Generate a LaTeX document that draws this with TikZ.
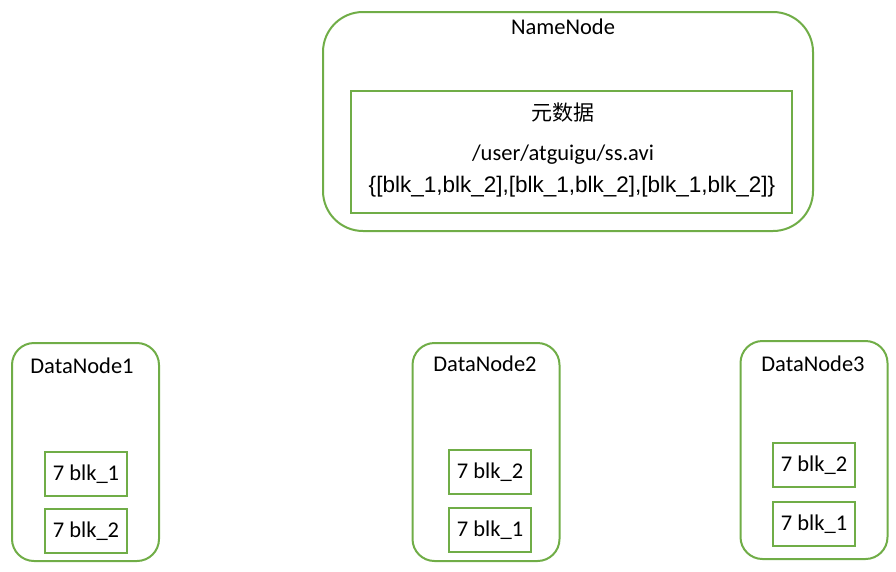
\documentclass[tikz,border=0pt]{standalone}
\usepackage{fontspec}
\setmainfont{Carlito}
\newfontfamily\arialfont{Liberation Sans}
\newfontfamily\cjk{Noto Sans CJK SC}
\usetikzlibrary{positioning}
\definecolor{boxgreen}{RGB}{112,173,71}
\tikzstyle{server} = [rectangle, rounded corners=22pt, minimum width=147pt, minimum height=218pt, draw=boxgreen, line width=2pt]
\tikzstyle{meta} = [rectangle, minimum width=441pt, minimum height=122pt, draw=boxgreen, line width=2pt]
\tikzstyle{block} = [rectangle, minimum width=82pt, minimum height=44pt, draw=boxgreen, line width=2pt, font=\fontsize{22.5}{27}\selectfont]
\tikzstyle{title} = [font=\fontsize{22.5}{27}\selectfont, inner sep=0pt]

\begin{document}
\begin{tikzpicture}[x=1pt, y=-1pt]
 \useasboundingbox (0,0) rectangle (896,571);

 % NameNode
 \node (nn) [server, rounded corners=40pt, minimum width=490pt, minimum height=219pt] at (568,121.5) {};
 \node (nnlabel) [title] at (563,27) {NameNode};
 \node (md) [meta] at (571.5,152) {};
 \node (mdlabel) [title, font=\cjk\fontsize{21}{25}\selectfont] at (563,113) {元数据};
 \node (path) [title] at (563,155) {/user/atguigu/ss.avi};
 \node (blks) [title, font=\arialfont\fontsize{22.5}{27}\selectfont] at (572,187) {\{[blk\_1,blk\_2],[blk\_1,blk\_2],[blk\_1,blk\_2]\}};

 % DataNodes
 \node (dn1) [server] at (85.5,452) {};
 \node (dn1label) [title] at (82,366) {DataNode1};
 \node (dn1a) [block] at (86,474) {7 blk\_1};
 \node (dn1b) [block] at (86,531) {7 blk\_2};

 \node (dn2) [server] at (486,452) {};
 \node (dn2label) [title] at (485,364) {DataNode2};
 \node (dn2a) [block] at (490,472) {7 blk\_2};
 \node (dn2b) [block] at (490,530) {7 blk\_1};

 \node (dn3) [server] at (814,450) {};
 \node (dn3label) [title] at (813,364) {DataNode3};
 \node (dn3a) [block] at (814,465) {7 blk\_2};
 \node (dn3b) [block] at (814,524) {7 blk\_1};
\end{tikzpicture}
\end{document}
